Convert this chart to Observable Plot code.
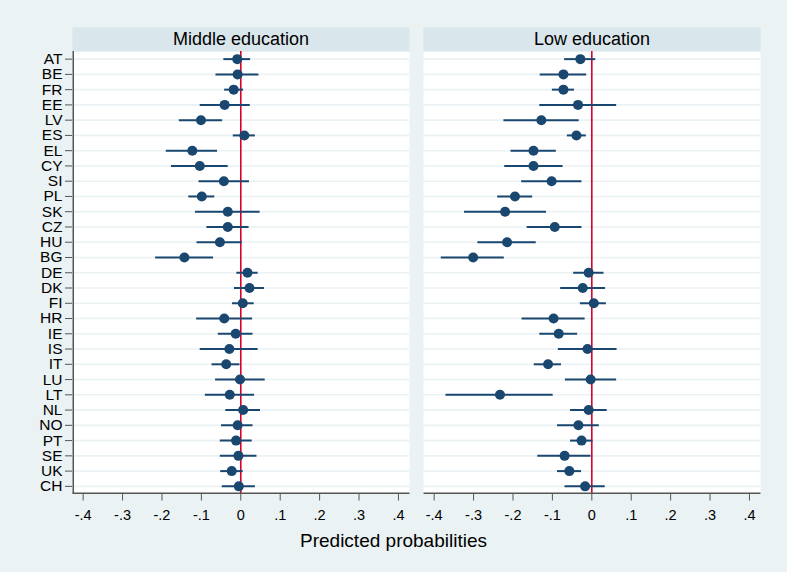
<!DOCTYPE html>
<html>
<head>
<meta charset="utf-8">
<script src="https://cdn.jsdelivr.net/npm/d3@7"></script>
<script src="https://cdn.jsdelivr.net/npm/@observablehq/plot@0.6"></script>
<style>
  html, body { margin: 0; padding: 0; background: #eaf2f3; }
  #wrap { position: relative; width: 787px; height: 572px; background: #eaf2f3; font-family: "Liberation Sans", Arial, sans-serif; }
  #wrap svg { position: absolute; left: 0; top: 0; background: transparent; overflow: visible; }
  #xlabel { position: absolute; left: 0; width: 787px; top: 530px; text-align: center; font-size: 19px; line-height: 22px; color: #000; }
</style>
</head>
<body>
<div id="wrap"><div id="xlabel">Predicted probabilities</div></div>
<script>
const panels = ["Middle education", "Low education"];
const countries = ["AT","BE","FR","EE","LV","ES","EL","CY","SI","PL","SK","CZ","HU","BG","DE","DK","FI","HR","IE","IS","IT","LU","LT","NL","NO","PT","SE","UK","CH"];

const midEst = [-0.009,-0.008,-0.018,-0.041,-0.101,0.009,-0.123,-0.104,-0.043,-0.099,-0.033,-0.033,-0.053,-0.143,0.017,0.022,0.005,-0.042,-0.013,-0.029,-0.037,-0.002,-0.028,0.006,-0.008,-0.012,-0.006,-0.023,-0.005];
const midLo  = [-0.043,-0.063,-0.041,-0.103,-0.156,-0.019,-0.189,-0.176,-0.106,-0.132,-0.115,-0.086,-0.111,-0.216,-0.010,-0.016,-0.021,-0.112,-0.057,-0.103,-0.073,-0.064,-0.090,-0.038,-0.049,-0.052,-0.052,-0.051,-0.047];
const midHi  = [0.025,0.046,0.007,0.024,-0.046,0.037,-0.059,-0.032,0.022,-0.066,0.049,0.021,0.004,-0.069,0.044,0.060,0.034,0.030,0.031,0.044,-0.002,0.062,0.035,0.050,0.031,0.029,0.041,0.006,0.037];

const lowEst = [-0.029,-0.072,-0.072,-0.035,-0.128,-0.039,-0.148,-0.148,-0.102,-0.195,-0.220,-0.094,-0.215,-0.301,-0.008,-0.023,0.005,-0.097,-0.084,-0.011,-0.111,-0.003,-0.233,-0.008,-0.034,-0.026,-0.069,-0.057,-0.017];
const lowLo  = [-0.069,-0.131,-0.100,-0.132,-0.223,-0.062,-0.205,-0.221,-0.178,-0.239,-0.323,-0.164,-0.289,-0.382,-0.046,-0.079,-0.029,-0.177,-0.132,-0.085,-0.146,-0.067,-0.370,-0.054,-0.087,-0.054,-0.137,-0.087,-0.068];
const lowHi  = [0.010,-0.013,-0.044,0.063,-0.032,-0.014,-0.090,-0.073,-0.025,-0.150,-0.115,-0.025,-0.141,-0.222,0.031,0.035,0.037,-0.017,-0.036,0.064,-0.077,0.063,-0.098,0.039,0.019,0.003,-0.002,-0.026,0.034];

const xTicks = [-0.4,-0.3,-0.2,-0.1,0,0.1,0.2,0.3,0.4];
const xTickLabels = ["-.4","-.3","-.2","-.1","0",".1",".2",".3",".4"];
const xDomain = [-0.427, 0.428];

const data = [];
countries.forEach((c, i) => {
  data.push({panel: panels[0], country: c, est: midEst[i], lo: midLo[i], hi: midHi[i]});
  data.push({panel: panels[1], country: c, est: lowEst[i], lo: lowLo[i], hi: lowHi[i]});
});
const headers = panels.map(p => ({panel: p}));

const navy = "#1a476f";
const W = 787, H = 572, mTop = 51, mBottom = 78.5;
const innerH = H - mTop - mBottom;

const chart = Plot.plot({
  width: W,
  height: H,
  marginTop: mTop,
  marginBottom: mBottom,
  marginLeft: 72,
  marginRight: 27,
  style: {background: "transparent", fontFamily: "'Liberation Sans', Arial, sans-serif", color: "#000", overflow: "visible"},
  fx: {domain: panels, paddingInner: 0.04, paddingOuter: 0, round: false, axis: null},
  x: {domain: xDomain, axis: null},
  y: {type: "point", domain: countries, padding: 0.5, round: false, axis: null},
  marks: [
    Plot.frame({fill: "white", stroke: null}),
    Plot.frame({fill: "#d9e6eb", stroke: null, insetTop: -24, insetBottom: innerH}),
    Plot.text(headers, {fx: "panel", text: "panel", frameAnchor: "top", lineAnchor: "middle", dy: -12, fontSize: 18, fill: "#000"}),
    Plot.ruleY(data, {fx: "panel", y: "country", stroke: "#eaf2f3", strokeWidth: 1.6}),
    Plot.ruleX([0], {stroke: "#d8002c", strokeWidth: 1.6}),
    Plot.ruleY(data, {fx: "panel", y: "country", x1: "lo", x2: "hi", stroke: navy, strokeWidth: 2}),
    Plot.dot(data, {fx: "panel", y: "country", x: "est", r: 5, fill: navy, stroke: null}),
    Plot.frame({fill: "#555", stroke: null, insetTop: innerH - 1.5}),
    Plot.ruleX([{panel: panels[0], v: xDomain[0]}], {fx: "panel", x: "v", stroke: "#555", strokeWidth: 1.5, dx: 0.75}),
    Plot.axisX({ticks: xTicks, tickFormat: d => xTickLabels[xTicks.findIndex(t => Math.abs(t - d) < 1e-9)], tickSize: 7, tickPadding: 9, fontSize: 14.5, stroke: "#555", fill: "#000", label: null}),
    Plot.axisY({tickSize: 7, tickPadding: 3, fontSize: 15.5, stroke: "#555", fill: "#000", label: null})
  ]
});
document.getElementById("wrap").prepend(chart);
</script>
</body>
</html>
